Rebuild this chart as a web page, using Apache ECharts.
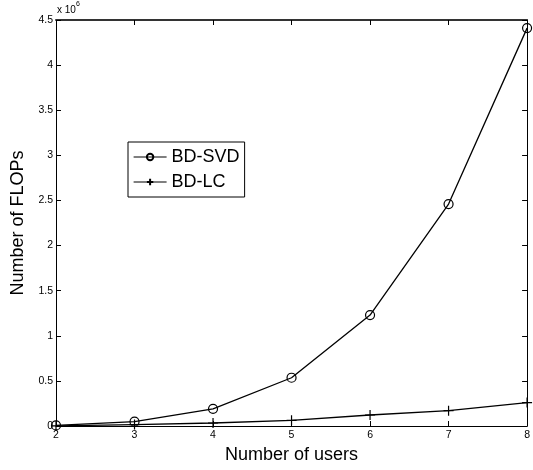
<!DOCTYPE html>
<html><head><meta charset="utf-8">
<script src="https://cdn.jsdelivr.net/npm/echarts@6/dist/echarts.min.js"></script>
<style>html,body{margin:0;padding:0;background:#fff}#c{width:533px;height:470px}</style>
</head><body><div id="c"></div>
<script>
const users = [2, 3, 4, 5, 6, 7, 8];
const bdSvd = [0.006e6, 0.048e6, 0.19e6, 0.535e6, 1.23e6, 2.46e6, 4.41e6];
const bdLc = [0.002e6, 0.016e6, 0.033e6, 0.063e6, 0.122e6, 0.17e6, 0.26e6];
const seriesNames = ['BD-SVD', 'BD-LC'];
const xTitle = 'Number of users';
const yTitle = 'Number of FLOPs';

const FONT = 'Liberation Sans, Arial, sans-serif';
const chart = echarts.init(document.getElementById('c'), null, {renderer: 'canvas'});
const pair = (xs, ys) => xs.map((x, i) => [x, ys[i]]);
const plus = 'path://M0,-5L0,5M-5,0L5,0';
chart.setOption({
  animation: false,
  backgroundColor: '#fff',
  grid: {left: 56, width: 478.5, top: 20, bottom: 44},
  xAxis: [{
    type: 'value', min: 2, max: 8, interval: 1,
    name: xTitle, nameLocation: 'middle', nameGap: 20,
    nameTextStyle: {fontFamily: FONT, fontSize: 18, color: '#000'},
    axisLine: {show: true, onZero: false, lineStyle: {color: '#000', width: 1}},
    axisTick: {show: true, inside: true, length: 5, lineStyle: {color: '#000'}},
    axisLabel: {fontFamily: FONT, fontSize: 10.5, color: '#000', margin: 4},
    splitLine: {show: false}
  }, {
    type: 'value', min: 2, max: 8, interval: 1, position: 'top',
    axisLine: {show: true, onZero: false, lineStyle: {color: '#333', width: 2}},
    axisTick: {show: true, inside: true, length: 5, lineStyle: {color: '#000'}},
    axisLabel: {show: false}, splitLine: {show: false}
  }],
  yAxis: [{
    type: 'value', min: 0, max: 4.5e6, interval: 0.5e6,
    name: yTitle, nameLocation: 'middle', nameGap: 27,
    nameTextStyle: {fontFamily: FONT, fontSize: 18, color: '#000'},
    axisLine: {show: true, onZero: false, lineStyle: {color: '#000', width: 1}},
    axisTick: {show: true, inside: true, length: 5, lineStyle: {color: '#000'}},
    axisLabel: {fontFamily: FONT, fontSize: 10.5, color: '#000', margin: 3,
      formatter: v => String(Math.round(v / 1e5) / 10)},
    splitLine: {show: false}
  }, {
    type: 'value', min: 0, max: 4.5e6, interval: 0.5e6, position: 'right',
    axisLine: {show: true, onZero: false, lineStyle: {color: '#000', width: 1}},
    axisTick: {show: true, inside: true, length: 5, lineStyle: {color: '#000'}},
    axisLabel: {show: false}, splitLine: {show: false}
  }],
  legend: {
    left: 128, top: 142, orient: 'vertical',
    backgroundColor: '#fff', borderColor: '#000', borderWidth: 1,
    padding: [6, 5, 6, 5], itemWidth: 33, itemHeight: 8, itemGap: 7,
    textStyle: {fontFamily: FONT, fontSize: 18, color: '#000', lineHeight: 18},
    lineStyle: {width: 1.2},
    data: seriesNames
  },
  graphic: [{
    type: 'text', left: 57, top: 1,
    style: {
      text: '{a|x 10}{s|6}', fill: '#000',
      rich: {a: {fontFamily: FONT, fontSize: 10, padding: [5, 0, 0, 0]},
             s: {fontFamily: FONT, fontSize: 7, padding: [0, 0, 6, 0]}}
    }
  }],
  series: [{
    name: seriesNames[0], type: 'line', data: pair(users, bdSvd),
    symbol: 'circle', symbolSize: 9, showAllSymbol: true, clip: false,
    lineStyle: {color: '#000', width: 1.3},
    itemStyle: {color: 'rgba(0,0,0,0)', borderColor: '#000', borderWidth: 1.2}
  }, {
    name: seriesNames[1], type: 'line', data: pair(users, bdLc),
    symbol: plus, symbolSize: 10, showAllSymbol: true, clip: false,
    lineStyle: {color: '#000', width: 1.3},
    itemStyle: {color: 'rgba(0,0,0,0)', borderColor: '#000', borderWidth: 1.2}
  }]
});
</script></body></html>
